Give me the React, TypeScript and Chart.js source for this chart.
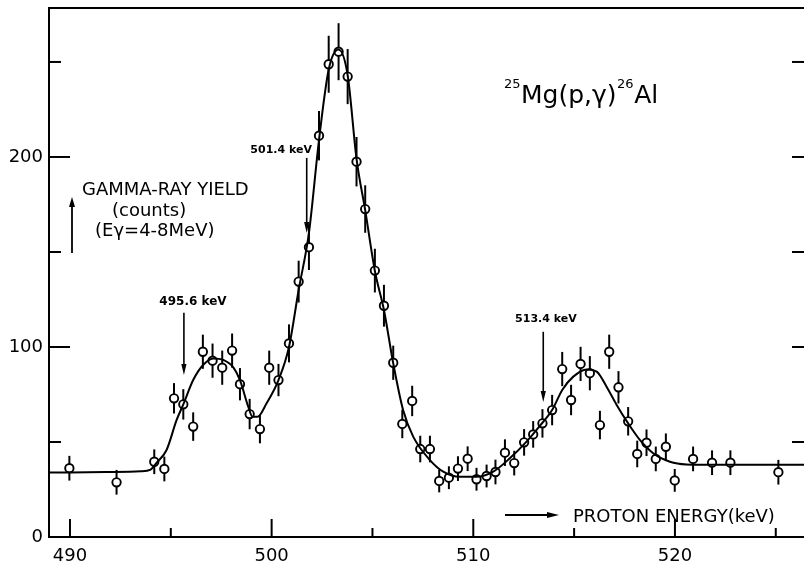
import React, { useEffect, useRef } from "react";
import { Chart, registerables } from "chart.js";

Chart.register(...registerables);

// Measured data points: proton energy (keV) and gamma-ray yield (counts)
const energies = [
  489.97, 492.31, 494.18, 494.68, 495.16, 495.62, 496.11, 496.59, 497.07, 497.55,
  498.04, 498.43, 498.91, 499.42, 499.88, 500.34, 500.86, 501.34, 501.85, 502.35,
  502.83, 503.32, 503.77, 504.21, 504.64, 505.12, 505.57, 506.03, 506.48, 506.97,
  507.37, 507.85, 508.31, 508.79, 509.24, 509.72, 510.16, 510.66, 511.1, 511.57,
  512.03, 512.52, 512.97, 513.43, 513.91, 514.41, 514.85, 515.32, 515.78, 516.28,
  516.74, 517.2, 517.68, 518.13, 518.59, 519.05, 519.55, 519.99, 520.9, 521.84,
  522.75, 525.13,
];
const yields = [
  36.2, 28.8, 39.6, 35.8, 73.0, 69.8, 58.1, 97.5, 92.8, 89.1,
  98.1, 80.4, 64.7, 56.8, 89.1, 82.6, 101.9, 134.4, 152.5, 211.2,
  248.8, 255.4, 242.3, 197.5, 172.6, 140.2, 121.7, 91.7, 59.5, 71.6,
  46.3, 46.3, 29.5, 31.2, 36.0, 41.2, 30.4, 32.1, 34.2, 44.4,
  38.9, 49.8, 54.0, 59.8, 66.8, 88.4, 72.1, 91.1, 86.2, 58.9,
  97.5, 78.8, 60.9, 43.7, 49.6, 41.1, 47.5, 29.8, 41.1, 39.1,
  39.1, 34.1,
];
const errors = [
  6.5, 6.5, 6.5, 6.5, 8, 8, 7.5, 9, 9, 9,
  9, 8.5, 8, 7.5, 9, 8.5, 10, 11, 12, 13,
  15, 15, 14.5, 13, 12.5, 11.5, 11, 9, 7.5, 8,
  7, 7, 6, 6, 6.5, 6.5, 6, 6, 6.5, 7,
  6.5, 7, 7, 7.5, 8, 9, 8, 9, 9, 7.5,
  9, 8.5, 7.5, 7, 7, 6.5, 7, 6, 6.5, 6.5,
  6.5, 6.5,
];

// Fitted curve
const fitEnergies = [
  488.96, 490.0, 492.0, 493.5, 494.0, 494.3, 494.79, 495.29, 495.62, 496.11,
  496.6, 497.1, 497.6, 498.1, 498.43, 498.84, 499.05, 499.3, 499.75, 500.34,
  500.86, 501.34, 501.85, 502.35, 502.83, 503.32, 503.77, 504.21, 504.64, 505.12,
  505.57, 506.03, 506.52, 507.02, 507.85, 508.51, 509.34, 510.16, 510.99, 511.81,
  512.64, 513.3, 513.91, 514.41, 514.96, 515.62, 516.12, 516.61, 517.11, 517.68,
  518.26, 518.92, 519.75, 520.57, 522.0, 526.4,
];
const fitYields = [
  34.0, 34.0, 34.2, 34.6, 35.5, 39.1, 45.8, 61.6, 69.8, 82.6,
  90.5, 94.0, 93.2, 89.3, 82.6, 68.6, 63.3, 63.3, 70.4, 82.6,
  100.0, 130.0, 160.0, 209.0, 246.0, 256.5, 243.0, 199.0, 172.0, 140.0,
  119.5, 91.4, 66.8, 52.8, 40.5, 34.4, 31.7, 31.7, 34.4, 41.4,
  50.2, 58.5, 66.8, 77.4, 84.4, 88.2, 87.0, 79.1, 69.5, 59.8,
  51.1, 44.1, 39.6, 38.2, 38.0, 38.0,
];

// Axis ticks
const xMajorTicks = [490, 500, 510, 520];
const yMajorTicks = [0, 100, 200];

// Resonance markers
const resonanceLabels = ["495.6 keV", "501.4 keV", "513.4 keV"];
const resonanceEnergies = [495.65, 501.74, 513.47];

const FONT = "'DejaVu Sans', sans-serif";

const annotations = {
  arrows: [
    { top: 118, tip: 85.3, labelX: 496.1, labelY: 123.7, align: "center", size: 12 },
    { top: 199.5, tip: 160, labelX: 502.0, labelY: 203.7, align: "right", size: 11 },
    { top: 108, tip: 71.1, labelX: 513.6, labelY: 114.7, align: "center", size: 11 },
  ],
};

function arrowHead(ctx: CanvasRenderingContext2D, x: number, y: number, dir: "down" | "up" | "right", len: number, half: number) {
  ctx.beginPath();
  if (dir === "down") {
    ctx.moveTo(x, y);
    ctx.lineTo(x - half, y - len);
    ctx.lineTo(x + half, y - len);
  } else if (dir === "up") {
    ctx.moveTo(x, y);
    ctx.lineTo(x - half, y + len);
    ctx.lineTo(x + half, y + len);
  } else {
    ctx.moveTo(x, y);
    ctx.lineTo(x - len, y - half);
    ctx.lineTo(x - len, y + half);
  }
  ctx.closePath();
  ctx.fill();
}

const decorPlugin = {
  id: "decor",
  beforeDraw(chart: any) {
    const { ctx, width, height } = chart;
    ctx.save();
    ctx.fillStyle = "#fff";
    ctx.fillRect(0, 0, width, height);
    ctx.restore();
  },
  beforeDatasetDraw(chart: any, args: any) {
    if (args.index !== 1) return;
    const { ctx } = chart;
    const x = chart.scales.x;
    const y = chart.scales.y;
    ctx.save();
    ctx.strokeStyle = "#000";
    ctx.lineWidth = 2;
    energies.forEach((e, i) => {
      const px = x.getPixelForValue(e);
      ctx.beginPath();
      ctx.moveTo(px, y.getPixelForValue(yields[i] - errors[i]));
      ctx.lineTo(px, y.getPixelForValue(yields[i] + errors[i]));
      ctx.stroke();
    });
    ctx.restore();
  },
  afterDraw(chart: any) {
    const { ctx, chartArea } = chart;
    const x = chart.scales.x;
    const y = chart.scales.y;
    const { left, right, top, bottom } = chartArea;
    ctx.save();
    ctx.strokeStyle = "#000";
    ctx.fillStyle = "#000";
    ctx.lineWidth = 2;
    ctx.lineCap = "butt";

    // frame
    ctx.beginPath();
    ctx.moveTo(right, top);
    ctx.lineTo(left, top);
    ctx.lineTo(left, bottom);
    ctx.lineTo(right, bottom);
    ctx.stroke();

    // y ticks (inward on left, short on right)
    y.ticks.forEach((t: any) => {
      const v = t.value;
      if (v === 0) return;
      const py = y.getPixelForValue(v);
      const major = yMajorTicks.includes(v);
      ctx.beginPath();
      ctx.moveTo(left, py);
      ctx.lineTo(left + (major ? 21 : 12), py);
      ctx.stroke();
      ctx.beginPath();
      ctx.moveTo(right, py);
      ctx.lineTo(right - 12, py);
      ctx.stroke();
    });

    // x ticks (inward, upward)
    x.ticks.forEach((t: any) => {
      const v = t.value;
      const px = x.getPixelForValue(v);
      const major = xMajorTicks.includes(v);
      ctx.beginPath();
      ctx.moveTo(px, bottom);
      ctx.lineTo(px, bottom - (major ? 18 : 9));
      ctx.stroke();
    });

    // resonance arrows
    ctx.lineWidth = 1.6;
    annotations.arrows.forEach((a, i) => {
      const px = x.getPixelForValue(resonanceEnergies[i]);
      const pTop = y.getPixelForValue(a.top);
      const pTip = y.getPixelForValue(a.tip);
      ctx.beginPath();
      ctx.moveTo(px, pTop);
      ctx.lineTo(px, pTip - 8);
      ctx.stroke();
      arrowHead(ctx, px, pTip, "down", 11, 2.6);
      ctx.font = `bold ${a.size}px ${FONT}`;
      ctx.textAlign = a.align as CanvasTextAlign;
      ctx.textBaseline = "middle";
      ctx.fillText(resonanceLabels[i], x.getPixelForValue(a.labelX), y.getPixelForValue(a.labelY));
    });

    // title 25Mg(p,γ)26Al
    ctx.textAlign = "left";
    ctx.textBaseline = "alphabetic";
    let tx = 504;
    const base = 103;
    const parts: [string, boolean][] = [["25", true], ["Mg(p,γ)", false], ["26", true], ["Al", false]];
    parts.forEach(([s, sup]) => {
      ctx.font = sup ? `13px ${FONT}` : `25px ${FONT}`;
      ctx.fillText(s, tx, sup ? base - 15 : base);
      tx += ctx.measureText(s).width + 0.5;
    });

    // y-axis label block
    ctx.font = `18px ${FONT}`;
    ctx.fillText("GAMMA-RAY YIELD", 82, 195);
    ctx.fillText("(counts)", 112, 216);
    ctx.fillText("(Eγ=4-8MeV)", 95, 236);
    ctx.lineWidth = 1.8;
    ctx.beginPath();
    ctx.moveTo(72, 253);
    ctx.lineTo(72, 205);
    ctx.stroke();
    arrowHead(ctx, 72, 197, "up", 10, 3);

    // x-axis label
    ctx.beginPath();
    ctx.moveTo(505, 515);
    ctx.lineTo(548, 515);
    ctx.stroke();
    arrowHead(ctx, 559, 515, "right", 12, 3);
    ctx.font = `18px ${FONT}`;
    ctx.fillText("PROTON ENERGY(keV)", 573, 522);

    ctx.restore();
  },
};

export default function App() {
  const ref = useRef<HTMLCanvasElement | null>(null);

  useEffect(() => {
    document.body.style.margin = "0";
    const canvas = ref.current;
    if (!canvas) return;
    const chart = new Chart(canvas, {
      type: "line",
      data: {
        datasets: [
          {
            label: "fit",
            data: fitEnergies.map((e, i) => ({ x: e, y: fitYields[i] })),
            borderColor: "#000",
            borderWidth: 2,
            pointRadius: 0,
            fill: false,
            cubicInterpolationMode: "monotone",
            tension: 0.4,
          },
          {
            label: "data",
            data: energies.map((e, i) => ({ x: e, y: yields[i] })),
            showLine: false,
            pointRadius: 4.2,
            pointBorderWidth: 1.9,
            pointBorderColor: "#000",
            pointBackgroundColor: "#fff",
            borderColor: "#000",
            backgroundColor: "#fff",
          },
        ],
      },
      options: {
        animation: false,
        responsive: false,
        devicePixelRatio: 1,
        layout: { autoPadding: false, padding: { top: 8, right: 0, left: 0, bottom: 0 } },
        plugins: {
          legend: { display: false },
          tooltip: { enabled: false },
        },
        scales: {
          x: {
            type: "linear",
            min: 488.96,
            max: 526.4,
            grid: { display: false, drawTicks: false },
            border: { display: false },
            afterFit: (s: any) => {
              s.height = 28;
              s.paddingLeft = 0;
              s.paddingRight = 0;
            },
            ticks: {
              stepSize: 5,
              includeBounds: false,
              autoSkip: false,
              maxRotation: 0,
              padding: 9,
              color: "#000",
              font: { family: FONT, size: 18 },
              callback: (v: any) => (xMajorTicks.includes(Number(v)) ? String(v) : ""),
            },
          },
          y: {
            type: "linear",
            min: 0,
            max: 278.4,
            grid: { display: false, drawTicks: false },
            border: { display: false },
            afterFit: (s: any) => {
              s.width = 49;
              s.paddingTop = 0;
              s.paddingBottom = 0;
            },
            ticks: {
              stepSize: 50,
              includeBounds: false,
              autoSkip: false,
              padding: 6,
              color: "#000",
              font: { family: FONT, size: 18 },
              callback: (v: any) => (yMajorTicks.includes(Number(v)) ? String(v) : ""),
            },
          },
        },
      },
      plugins: [decorPlugin],
    } as any);
    return () => chart.destroy();
  }, []);

  return <canvas ref={ref} width={804} height={565} style={{ display: "block" }} />;
}
